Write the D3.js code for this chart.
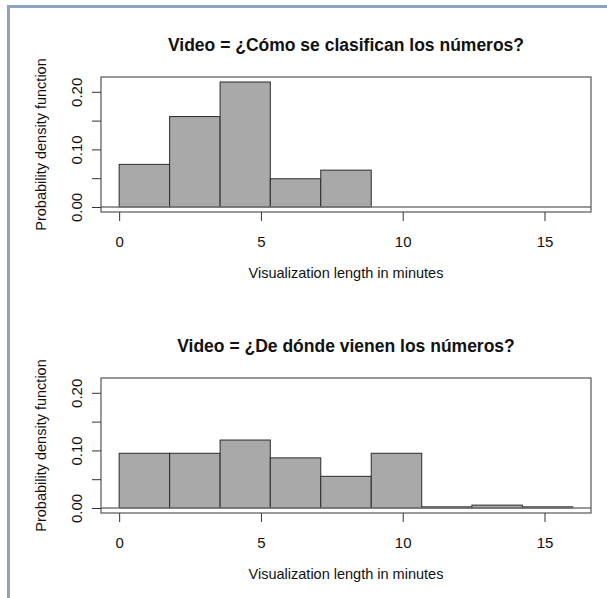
<!DOCTYPE html>
<html>
<head>
<meta charset="utf-8">
<script src="https://cdn.jsdelivr.net/npm/d3@7"></script>
<style>
  html, body { margin: 0; padding: 0; background: #fff; }
  text { font-family: "Liberation Sans", Arial, sans-serif; fill: #111; }
</style>
</head>
<body>
<svg id="chart" width="607" height="598"></svg>
<script>
// bin edges shared by both histograms (minutes)
const breaks = [0, 1.78, 3.56, 5.33, 7.11, 8.89, 10.67, 12.44, 14.22, 16];
// density of each bin
const densityClasifican = [0.074, 0.157, 0.217, 0.049, 0.064];
const densityVienen = [0.095, 0.095, 0.118, 0.087, 0.055, 0.095, 0.002, 0.005, 0.002];
const titles = ["Video = ¿Cómo se clasifican los números?", "Video = ¿De dónde vienen los números?"];
const xTicks = [0, 5, 10, 15];
const yTicks = [0, 0.05, 0.10, 0.15, 0.20];
const yTickLabels = ["0.00", "", "0.10", "", "0.20"];
const xTitle = "Visualization length in minutes";
const yTitle = "Probability density function";

const svg = d3.select("#chart");

// blue-grey frame on the left and top of the picture
svg.append("path")
  .attr("d", "M8.5,598 L8.5,6.5 L607,6.5")
  .attr("fill", "none")
  .attr("stroke", "#8ea3bd")
  .attr("stroke-width", 3);

const xMin = 0, xMax = 16, yMax = 0.217;
const x = d3.scaleLinear()
  .domain([xMin - 0.04 * (xMax - xMin), xMax + 0.04 * (xMax - xMin)])
  .range([101, 591]);

function panel(top, title, dens) {
  const boxTop = top, boxBottom = top + 135;
  const y = d3.scaleLinear()
    .domain([-0.04 * yMax, 1.04 * yMax])
    .range([boxBottom, boxTop]);

  const g = svg.append("g");

  // title
  g.append("text")
    .attr("x", (x.range()[0] + x.range()[1]) / 2)
    .attr("y", boxTop - 26)
    .attr("text-anchor", "middle")
    .style("font-size", "17.5px")
    .style("font-weight", "bold")
    .text(title);

  // bars
  g.selectAll("rect.bar")
    .data(dens)
    .join("rect")
    .attr("class", "bar")
    .attr("x", (d, i) => x(breaks[i]))
    .attr("width", (d, i) => x(breaks[i + 1]) - x(breaks[i]))
    .attr("y", d => y(d))
    .attr("height", d => y(0) - y(d))
    .attr("fill", "#a9a9a9")
    .attr("stroke", "#2a2a2a")
    .attr("stroke-width", 1);

  // zero line
  g.append("line")
    .attr("x1", x.range()[0]).attr("x2", x.range()[1])
    .attr("y1", y(0)).attr("y2", y(0))
    .attr("stroke", "#777")
    .attr("stroke-width", 1.5);

  // box
  g.append("rect")
    .attr("x", x.range()[0]).attr("y", boxTop)
    .attr("width", x.range()[1] - x.range()[0])
    .attr("height", boxBottom - boxTop)
    .attr("fill", "none")
    .attr("stroke", "#555")
    .attr("stroke-width", 1.2);

  // x axis
  const xAxis = g.append("g")
    .attr("transform", "translate(0," + boxBottom + ")")
    .call(d3.axisBottom(x).tickValues(xTicks).tickSize(9).tickPadding(15));
  xAxis.select(".domain").remove();
  xAxis.selectAll("line").attr("stroke", "#333");
  xAxis.selectAll("text")
    .style("font-size", "15px")
    .style("font-family", "Liberation Sans, Arial, sans-serif")
    .attr("fill", "#111");

  g.append("text")
    .attr("x", (x.range()[0] + x.range()[1]) / 2)
    .attr("y", boxBottom + 66)
    .attr("text-anchor", "middle")
    .style("font-size", "14.5px")
    .text(xTitle);

  // y axis
  const yAxis = g.append("g")
    .attr("transform", "translate(" + x.range()[0] + ",0)")
    .call(d3.axisLeft(y).tickValues(yTicks).tickSize(9)
      .tickFormat((d, i) => yTickLabels[i]));
  yAxis.select(".domain").remove();
  yAxis.selectAll("line").attr("stroke", "#333");
  yAxis.selectAll("text")
    .attr("x", null).attr("dy", null)
    .attr("text-anchor", "middle")
    .attr("transform", "translate(-19,0) rotate(-90)")
    .style("font-size", "15px")
    .style("font-family", "Liberation Sans, Arial, sans-serif")
    .attr("fill", "#111");

  g.append("text")
    .attr("transform", "translate(46," + (boxTop + boxBottom) / 2 + ") rotate(-90)")
    .attr("text-anchor", "middle")
    .style("font-size", "14.5px")
    .text(yTitle);
}

panel(77, titles[0], densityClasifican);
panel(378, titles[1], densityVienen);
</script>
</body>
</html>
